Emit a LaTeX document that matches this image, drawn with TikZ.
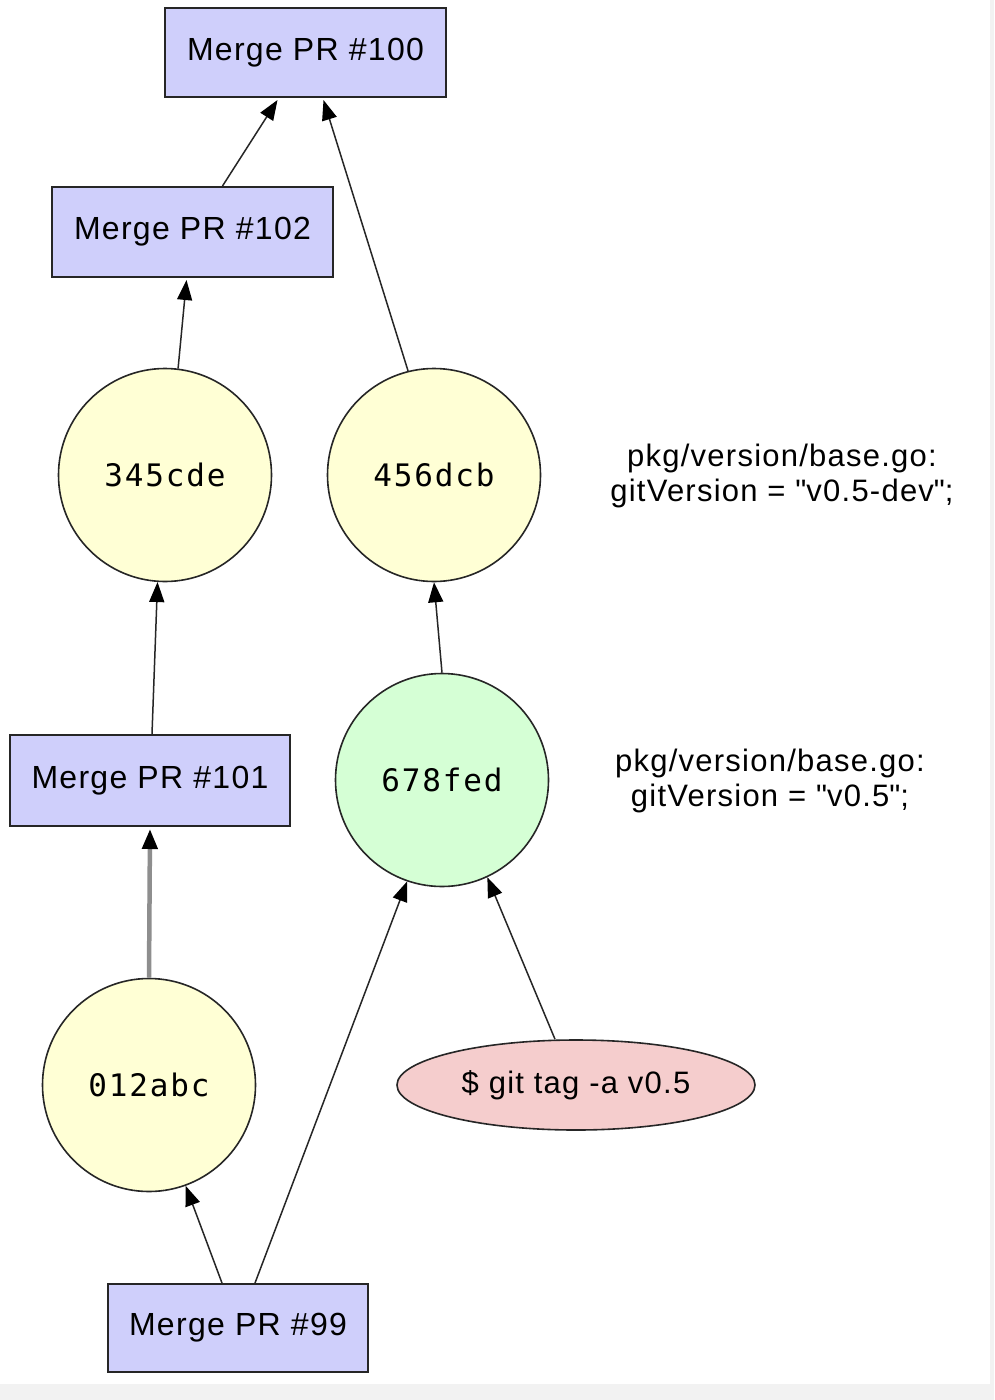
\documentclass[tikz,border=0pt]{standalone}
\usepackage{fontspec}
\setmainfont{Liberation Sans}[LetterSpace=4]
\newfontfamily\monof{DejaVu Sans Mono}[LetterSpace=6]
\usetikzlibrary{arrows.meta,shapes.geometric}
\definecolor{boxfill}{HTML}{CFCFFB}
\definecolor{yelfill}{HTML}{FFFFD5}
\definecolor{grnfill}{HTML}{D5FFD5}
\definecolor{pinkfill}{HTML}{F5CDCD}
\definecolor{bggray}{HTML}{F2F2F2}
\definecolor{edgegray}{HTML}{8E8E8E}
\definecolor{shadowgray}{HTML}{DDDDDD}
\tikzset{
  prbox/.style={draw=black!85, line width=2pt, fill=boxfill, rectangle, inner sep=0pt,
    font=\fontsize{32}{36}\selectfont},
  commit/.style={draw=black!85, line width=1.6pt, circle, inner sep=0pt, minimum size=213pt,
    font=\monof\fontsize{31}{34}\selectfont},
  tagnode/.style={draw=black!85, line width=1.6pt, fill=pinkfill, ellipse, inner sep=0pt,
    minimum width=358pt, minimum height=90pt, font=\fontsize{31}{36}\selectfont},
  note/.style={align=center, inner sep=0pt, font=\fontsize{31}{35}\selectfont},
  edge/.style={draw=black!85, line width=1.5pt, -{Triangle[length=20pt,width=15pt,color=black]}},
  grayedge/.style={draw=edgegray, line width=4.5pt, -{Triangle[length=20pt,width=15pt,color=black]}},
}
\newcommand{\dq}{\textquotedbl}
\begin{document}
\begin{tikzpicture}[x=1pt,y=-1pt]
\useasboundingbox (0,0) rectangle (994,1400);
\fill[bggray] (0,0) rectangle (994,1400);
\fill[white] (0,0) rectangle (990,1384);

\node[prbox, minimum width=281pt, minimum height=89pt] (n100) at (305.5,52.5) {Merge PR \#100};
\node[prbox, minimum width=281pt, minimum height=90pt] (n102) at (192.5,232) {Merge PR \#102};
\node[commit, fill=yelfill] (c345) at (165,475) {345cde};
\node[commit, fill=yelfill] (c456) at (434,475) {456dcb};
\node[prbox, minimum width=280pt, minimum height=91pt] (n101) at (150,780.5) {Merge PR \#101};
\node[commit, fill=grnfill] (c678) at (442,780) {678fed};
\node[commit, fill=yelfill] (c012) at (149,1085) {012abc};
\node[tagnode] (tag) at (576,1085) {\$ git tag -a v0.5};
\node[prbox, minimum width=260pt, minimum height=88pt] (n99) at (238,1328) {Merge PR \#99};

\node[note] (l1) at (782,476) {pkg/version/base.go:\\gitVersion = \dq v0.5-dev\dq;};
\node[note] (l2) at (770,781) {pkg/version/base.go:\\gitVersion = \dq v0.5\dq;};

\draw[edge] ([xshift=30pt]n102.north) -- ([xshift=-28pt,yshift=-2pt]n100.south);
\draw[edge] (c456.104) -- ([xshift=18pt,yshift=-2pt]n100.south);
\draw[edge] (c345.83) -- ([xshift=-6pt,yshift=-2pt]n102.south);
\draw[edge] ([xshift=2pt]n101.north) -- (c345.266);
\draw[edge] (c678.north) -- (c456.south);
\draw[grayedge] (c012.north) -- ([yshift=-2pt]n101.south);
\draw[edge] ([xshift=-21pt]tag.north) -- (c678.295);
\draw[edge] ([xshift=-16pt]n99.north) -- (c012.290);
\draw[edge] ([xshift=17pt]n99.north) -- (c678.251);
\end{tikzpicture}
\end{document}
